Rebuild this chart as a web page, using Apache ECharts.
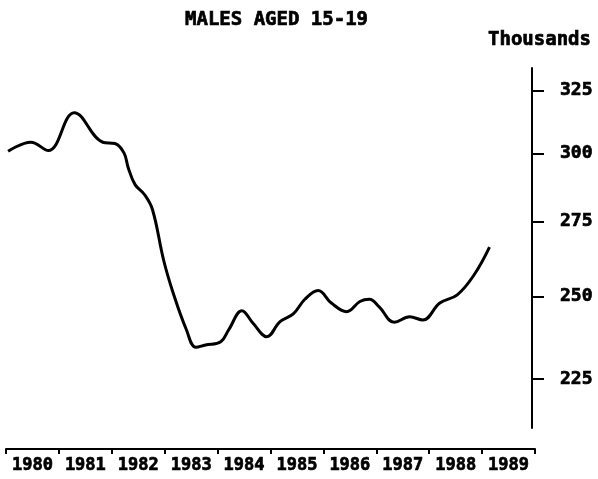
<!DOCTYPE html>
<html>
<head>
<meta charset="utf-8">
<script src="https://cdn.jsdelivr.net/npm/echarts@6/dist/echarts.min.js"></script>
<style>
  html, body { margin: 0; padding: 0; background: #fff; }
  #chart { width: 598px; height: 479px; }
</style>
</head>
<body>
<div id="chart"></div>
<script>
// year labels on the bottom axis
var yearLabels = ["1980", "1981", "1982", "1983", "1984", "1985", "1986", "1987", "1988", "1989"];
// y axis ticks (thousands)
var yTicks = [225, 250, 275, 300, 325];

// points: time in years, value in thousands
var times = [1980.04, 1980.47, 1980.80, 1981.29, 1981.83, 1982.06, 1982.23, 1982.31, 1982.44, 1982.62,
  1982.77, 1982.98, 1983.16, 1983.41, 1983.59, 1983.77, 1984.06, 1984.21, 1984.46, 1984.67,
  1984.93, 1985.18, 1985.43, 1985.65, 1985.90, 1986.15, 1986.44, 1986.69, 1986.87, 1987.05,
  1987.34, 1987.63, 1987.88, 1988.20, 1988.53, 1988.85, 1989.14];
var males = [300.8, 304.3, 301.1, 316.0, 304.3, 303.8, 300.2, 294.6, 288.3, 284.6,
  279.2, 261.8, 251.1, 239.6, 234.3, 235.0, 236.0, 239.6, 245.5, 241.6,
  237.5, 242.1, 244.5, 249.1, 251.9, 247.9, 245.2, 248.4, 249.1, 246.8,
  241.9, 243.6, 242.6, 247.9, 250.5, 257.0, 266.2];

var font = "DejaVu Sans Mono";
// heavy typewriter look
var heavy = { fontFamily: font, fontWeight: "bold", color: "#000", textBorderColor: "#000", textBorderWidth: 0.7 };

var chart = echarts.init(document.getElementById("chart"));

var lineData = times.map(function (t, i) { return [t, males[i]]; });

chart.setOption({
  animation: false,
  title: [
    {
      text: "MALES AGED 15-19",
      left: 185,
      top: 11,
      padding: 0,
      textStyle: Object.assign({ fontSize: 19 }, heavy)
    },
    {
      text: "Thousands",
      left: 488,
      top: 31,
      padding: 0,
      textStyle: Object.assign({ fontSize: 19 }, heavy)
    }
  ],
  grid: [
    { left: 6, right: 66, top: 68, bottom: 51 },
    { left: 6, right: 63, top: 68, bottom: 30 }
  ],
  xAxis: [
    {
      type: "value",
      gridIndex: 0,
      min: 1980,
      max: 1989.943,
      show: false
    },
    {
      type: "category",
      gridIndex: 1,
      data: yearLabels,
      boundaryGap: true,
      axisLine: { lineStyle: { color: "#000", width: 2 } },
      axisTick: { show: true, length: 5, interval: 0, lineStyle: { color: "#000", width: 2 } },
      axisLabel: Object.assign({ interval: 0, margin: 8, fontSize: 17 }, heavy),
      splitLine: { show: false }
    }
  ],
  yAxis: [
    {
      // ratio scale
      type: "log",
      gridIndex: 0,
      position: "right",
      min: 211.4,
      max: 334.5,
      axisLine: { show: true, lineStyle: { color: "#000", width: 2 } },
      axisTick: { show: true, customValues: yTicks, length: 12, lineStyle: { color: "#000", width: 2 } },
      axisLabel: Object.assign({ customValues: yTicks, margin: 28, fontSize: 18 }, heavy),
      splitLine: { show: false }
    },
    {
      type: "value",
      gridIndex: 1,
      show: false
    }
  ],
  series: [
    {
      type: "line",
      xAxisIndex: 0,
      yAxisIndex: 0,
      data: lineData,
      smooth: 0.4,
      symbol: "none",
      lineStyle: { color: "#000", width: 3 }
    }
  ]
});
</script>
</body>
</html>
